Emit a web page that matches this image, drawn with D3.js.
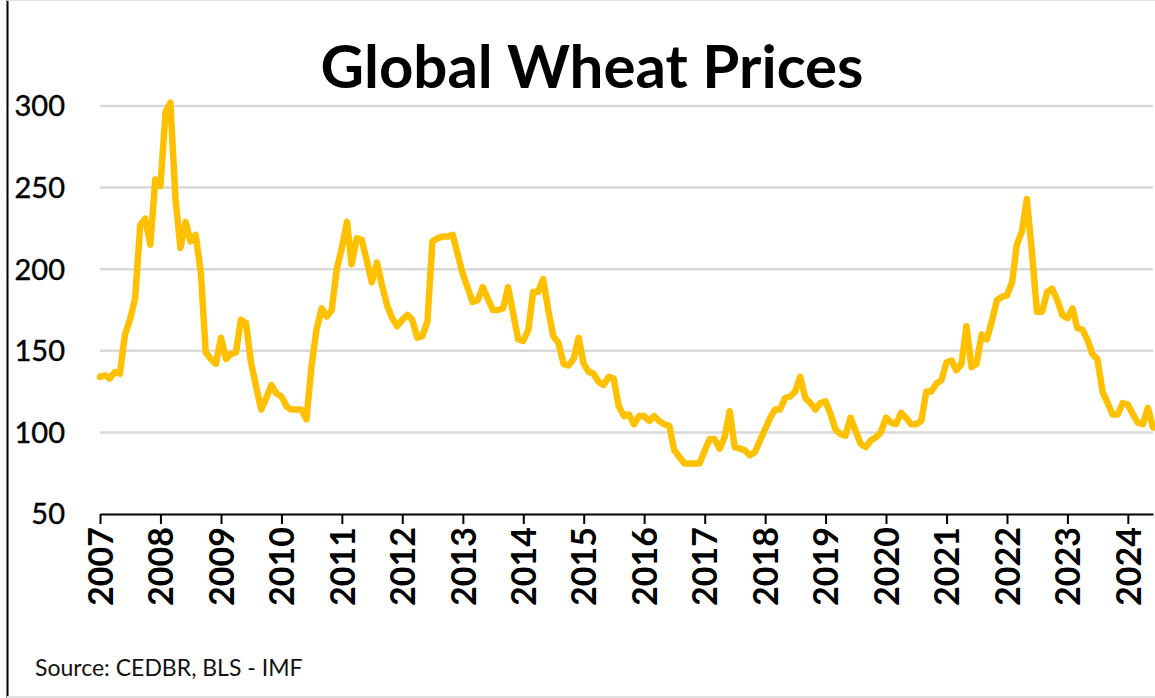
<!doctype html>
<html>
<head>
<meta charset="utf-8">
<style>
    body { margin: 0; background: #fff; }
    .grid line { stroke: #d9d9d9; stroke-width: 2.5; }
    .xaxis path, .xaxis line { stroke: #000; stroke-width: 2; }
    .xaxis text { font-family: Lato, sans-serif; font-weight: bold; font-size: 34px; fill: #000; }
    .ylab { font-family: Lato, sans-serif; font-size: 29px; fill: #000; stroke: #000; stroke-width: 0.4; }
</style>
</head>
<body>
<div id="chart"></div>
<script src="https://d3js.org/d3.v7.min.js"></script>
<script>

    // monthly wheat price index, starting Jan 2007
    var firstMonth = new Date(2007, 0, 1);
    var prices = [
        134, 135, 133, 137, 136, 160, 169, 182, 227, 231, 215, 255,   // 2007
        251, 296, 302, 243, 213, 229, 217, 221, 198, 149, 145, 142,   // 2008
        158, 145, 148, 149, 169, 167, 143, 128, 114, 121, 129, 124,   // 2009
        122, 116, 114, 114, 114, 108, 140, 163, 176, 171, 175, 200,   // 2010
        213, 229, 203, 219, 218, 205, 192, 204, 190, 178, 170, 165,   // 2011
        169, 172, 169, 158, 159, 168, 217, 219, 220, 220, 221, 209,   // 2012
        197, 188, 180, 181, 189, 182, 175, 175, 176, 189, 173, 157,   // 2013
        156, 163, 186, 186, 194, 175, 159, 155, 142, 141, 145, 158,   // 2014
        142, 137, 136, 131, 129, 134, 133, 116, 110, 111, 105, 110,   // 2015
        110, 107, 110, 107, 105, 104, 89, 85, 81, 81, 81, 81,         // 2016
        89, 96, 96, 90, 97, 113, 91, 90, 89, 86, 88, 95,              // 2017
        102, 109, 114, 114, 121, 122, 125, 134, 121, 118, 114, 118,   // 2018
        119, 111, 102, 99, 98, 109, 101, 93, 91, 95, 97, 100,         // 2019
        109, 106, 105, 112, 109, 105, 105, 107, 125, 125, 130, 132,   // 2020
        143, 144, 138, 142, 165, 140, 142, 160, 157, 168, 181, 183,   // 2021
        184, 192, 215, 223, 243, 210, 174, 174, 186, 188, 181, 172,   // 2022
        170, 176, 164, 163, 157, 148, 145, 125, 118, 111, 111, 118,   // 2023
        117, 111, 106, 105, 115, 103                                  // 2024
    ];
    var yTicks = [50, 100, 150, 200, 250, 300];
    var titleText = "Global Wheat Prices";
    var sourceText = "Source: CEDBR, BLS - IMF";

    var data = prices.map(function(v, i) {
        return { date: d3.timeMonth.offset(firstMonth, i), value: v };
    });

    var W = 1155, H = 698;
    var svg = d3.select("#chart").append("svg")
        .attr("width", W)
        .attr("height", H);

    // frame edges like the screenshot
    svg.append("line").attr("x1", 7.5).attr("x2", 7.5).attr("y1", 0).attr("y2", H)
        .attr("stroke", "#000").attr("stroke-width", 2);
    svg.append("line").attr("x1", 7).attr("x2", W).attr("y1", 0.5).attr("y2", 0.5)
        .attr("stroke", "#e0e0e0").attr("stroke-width", 1);
    svg.append("line").attr("x1", 7).attr("x2", W).attr("y1", H - 1).attr("y2", H - 1)
        .attr("stroke", "#e0e0e0").attr("stroke-width", 2);

    var x = d3.scaleTime()
        .domain([firstMonth, data[data.length - 1].date])
        .range([100, 1153]);

    var y = d3.scaleLinear()
        .domain([50, 300])
        .range([514, 106]);

    // gridlines
    svg.append("g").attr("class", "grid")
        .selectAll("line")
        .data(yTicks.filter(function(d) { return d > 50; }))
        .enter().append("line")
        .attr("x1", 100)
        .attr("x2", 1153)
        .attr("y1", function(d) { return y(d); })
        .attr("y2", function(d) { return y(d); });

    // y labels
    svg.append("g")
        .selectAll("text")
        .data(yTicks)
        .enter().append("text")
        .attr("class", "ylab")
        .attr("x", 65)
        .attr("y", function(d) { return y(d); })
        .attr("dy", "0.36em")
        .attr("text-anchor", "end")
        .text(function(d) { return d; });

    // x axis
    var xAxis = svg.append("g")
        .attr("class", "xaxis")
        .attr("transform", "translate(0," + y(50) + ")")
        .call(d3.axisBottom(x)
            .ticks(d3.timeYear.every(1))
            .tickFormat(d3.timeFormat("%Y"))
            .tickSize(10)
            .tickSizeOuter(0));

    xAxis.selectAll("text")
        .attr("transform", "rotate(-90)")
        .attr("x", -13)
        .attr("y", 0)
        .attr("dy", "0.36em")
        .attr("text-anchor", "end");

    // price line
    svg.append("path")
        .datum(data)
        .attr("fill", "none")
        .attr("stroke", "#ffc000")
        .attr("stroke-width", 6.5)
        .attr("stroke-linejoin", "round")
        .attr("stroke-linecap", "round")
        .attr("d", d3.line()
            .x(function(d) { return x(d.date); })
            .y(function(d) { return y(d.value); }));

    // title
    svg.append("text")
        .attr("x", 592)
        .attr("y", 88)
        .attr("text-anchor", "middle")
        .attr("font-family", "Lato, sans-serif")
        .attr("font-weight", "bold")
        .attr("font-size", "60px")
        .text(titleText);

    // source note
    svg.append("text")
        .attr("x", 35)
        .attr("y", 676)
        .attr("font-family", "Lato, sans-serif")
        .attr("font-size", "23px")
        .attr("fill", "#111")
        .text(sourceText);

</script>
</body>
</html>
